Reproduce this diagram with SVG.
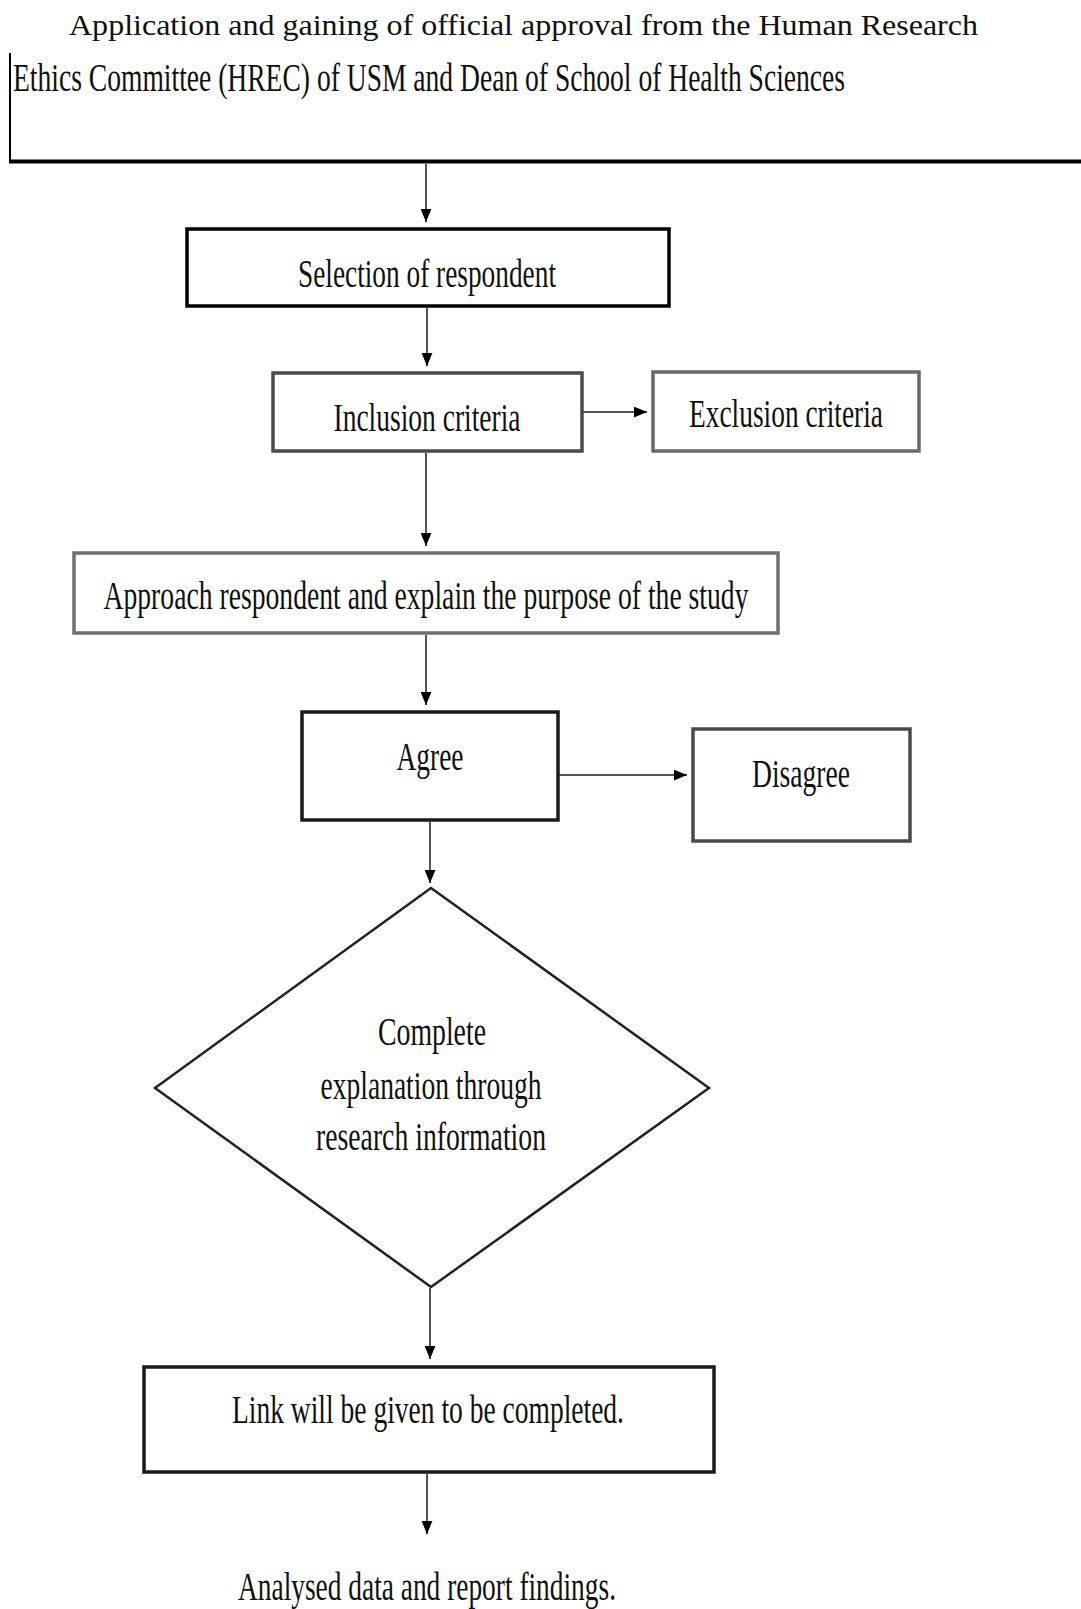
<svg xmlns="http://www.w3.org/2000/svg" width="1081" height="1609" viewBox="0 0 1081 1609">
<defs>
<marker id="ah" viewBox="0 0 12 10" markerWidth="13" markerHeight="11" refX="12" refY="5" orient="auto" markerUnits="userSpaceOnUse">
<path d="M0,0 L12,5 L0,10 z" fill="#000"/>
</marker>
</defs>
<style>
.t{font-family:"Liberation Serif","Times New Roman",serif;fill:#111;}
.lbl{font-size:40px;text-anchor:middle;}
.box{fill:#fff;stroke-width:3.5;}
.conn{stroke:#555;stroke-width:2;fill:none;marker-end:url(#ah);}
</style>
<rect width="1081" height="1609" fill="#fff"/>
<g id="header">
<text class="t" x="69" y="35" font-size="30" textLength="909" lengthAdjust="spacingAndGlyphs">Application and gaining of official approval from the Human Research</text>
<text class="t" x="13" y="91" font-size="40" textLength="832" lengthAdjust="spacingAndGlyphs">Ethics Committee (HREC) of USM and Dean of School of Health Sciences</text>
<line x1="10" y1="53" x2="10" y2="162" stroke="#000" stroke-width="2"/>
<line x1="9" y1="161.5" x2="1081" y2="161.5" stroke="#000" stroke-width="4"/>
</g>
<g id="connectors">
<line class="conn" x1="426" y1="164" x2="426" y2="222"/>
<line class="conn" x1="427" y1="308" x2="427" y2="366"/>
<line class="conn" x1="582" y1="412" x2="647" y2="412"/>
<line class="conn" x1="426" y1="453" x2="426" y2="546"/>
<line class="conn" x1="426" y1="635" x2="426" y2="705"/>
<line class="conn" x1="559" y1="775" x2="687" y2="775"/>
<line class="conn" x1="430" y1="822" x2="430" y2="883"/>
<line class="conn" x1="430" y1="1288" x2="430" y2="1359"/>
<line class="conn" x1="427" y1="1474" x2="427" y2="1534"/>
</g>
<g id="selection">
<rect class="box" x="187" y="229" width="482" height="77" stroke="#000"/>
<text class="t lbl" x="427" y="287" textLength="258" lengthAdjust="spacingAndGlyphs">Selection of respondent</text>
</g>
<g id="inclusion">
<rect class="box" x="273" y="373" width="309" height="78" stroke="#4a4a4a"/>
<text class="t lbl" x="427" y="431" textLength="187" lengthAdjust="spacingAndGlyphs">Inclusion criteria</text>
</g>
<g id="exclusion">
<rect class="box" x="653" y="372" width="266" height="79" stroke="#6a6a6a"/>
<text class="t lbl" x="786" y="427" textLength="194" lengthAdjust="spacingAndGlyphs">Exclusion criteria</text>
</g>
<g id="approach">
<rect class="box" x="74" y="553" width="704" height="80" stroke="#707070"/>
<text class="t lbl" x="426" y="609" textLength="645" lengthAdjust="spacingAndGlyphs">Approach respondent and explain the purpose of the study</text>
</g>
<g id="agree">
<rect class="box" x="302" y="712" width="256" height="108" stroke="#1a1a1a"/>
<text class="t lbl" x="430" y="770" textLength="67" lengthAdjust="spacingAndGlyphs">Agree</text>
</g>
<g id="disagree">
<rect class="box" x="693" y="729" width="217" height="112" stroke="#4a4a4a"/>
<text class="t lbl" x="801" y="787" textLength="98" lengthAdjust="spacingAndGlyphs">Disagree</text>
</g>
<g id="decision">
<polygon points="431,888 709,1088 431,1287 155,1088" fill="#fff" stroke="#222" stroke-width="2.5"/>
<text class="t lbl" x="432" y="1045" textLength="108" lengthAdjust="spacingAndGlyphs">Complete</text>
<text class="t lbl" x="431" y="1099" textLength="221" lengthAdjust="spacingAndGlyphs">explanation through</text>
<text class="t lbl" x="431" y="1150" textLength="230" lengthAdjust="spacingAndGlyphs">research information</text>
</g>
<g id="link">
<rect class="box" x="144" y="1367" width="570" height="105" stroke="#1a1a1a"/>
<text class="t lbl" x="428" y="1423" textLength="392" lengthAdjust="spacingAndGlyphs">Link will be given to be completed.</text>
</g>
<g id="analysed">
<text class="t lbl" x="427" y="1600" textLength="378" lengthAdjust="spacingAndGlyphs">Analysed data and report findings.</text>
</g>
</svg>
